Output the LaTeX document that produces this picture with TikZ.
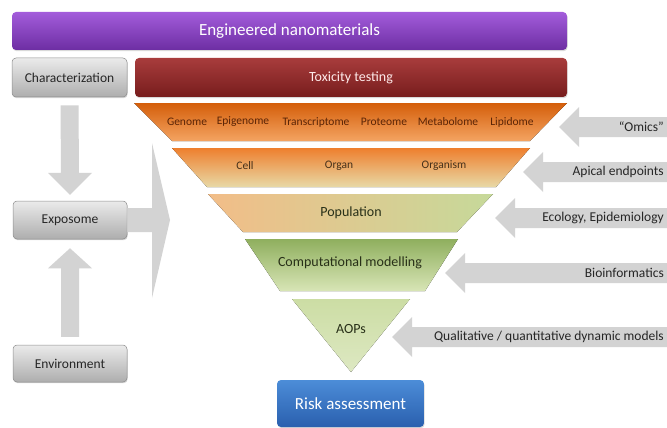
\documentclass[tikz,border=0pt]{standalone}
\usepackage{fontspec}
\setmainfont{Carlito}
\usetikzlibrary{shadows}
\definecolor{purT}{HTML}{A35CDB}
\definecolor{purB}{HTML}{6D2EA3}
\definecolor{redT}{HTML}{A83C3C}
\definecolor{redB}{HTML}{771D1D}
\definecolor{bluT}{HTML}{4C8DD8}
\definecolor{bluB}{HTML}{2A5FAE}
\definecolor{orT}{HTML}{D45E0A}
\definecolor{orB}{HTML}{F4A462}
\definecolor{celT}{HTML}{EE7F2E}
\definecolor{celB}{HTML}{E8D9A6}
\definecolor{popL}{HTML}{F2BD88}
\definecolor{popR}{HTML}{C6D99A}
\definecolor{comT}{HTML}{8FAF5E}
\definecolor{comB}{HTML}{D8E5B6}
\definecolor{aopT}{HTML}{CCDDA4}
\definecolor{aopB}{HTML}{DDE8C2}
\definecolor{arrG}{HTML}{D3D3D3}
\definecolor{omTxt}{HTML}{5A2406}
\definecolor{celTxt}{HTML}{45301A}
\definecolor{grTxt}{HTML}{283018}
\tikzset{
  bar/.style={rounded corners=4pt, text=white, inner sep=0pt,
    drop shadow={opacity=0.3, shadow xshift=0.6pt, shadow yshift=-1.2pt}},
  graybox/.style={draw=black!45, line width=0.5pt, rounded corners=4pt,
    top color=black!8, bottom color=black!32, inner sep=0pt,
    minimum width=114pt, minimum height=38pt, text=black!85,
    font=\fontsize{13.5}{15}\selectfont,
    drop shadow={opacity=0.35, shadow xshift=0.6pt, shadow yshift=-1.2pt}},
  garrow/.style={fill=arrG},
  omlabel/.style={font=\fontsize{11.5}{13}\selectfont, text=omTxt, inner sep=0pt},
  cellabel/.style={font=\fontsize{11.5}{13}\selectfont, text=celTxt, inner sep=0pt},
  funlabel/.style={font=\fontsize{14}{16}\selectfont, text=grTxt, inner sep=0pt},
  rlabel/.style={font=\fontsize{13.5}{15}\selectfont, text=black!85, anchor=east, inner sep=0pt}
}
\begin{document}
\begin{tikzpicture}[x=1pt,y=-1pt]
\useasboundingbox (0,0) rectangle (667,428);

% top bars
\node[bar, top color=purT, bottom color=purB, minimum width=555pt, minimum height=38pt,
  font=\fontsize{17}{19}\selectfont] (enm) at (289.5,31) {Engineered nanomaterials};
\node[graybox, minimum width=115pt, minimum height=39pt] (char) at (69.5,77.5) {Characterization};
\node[bar, top color=redT, bottom color=redB, minimum width=432pt, minimum height=39pt,
  text=red!8, font=\fontsize{14}{16}\selectfont] (tox) at (351,77.5) {Toxicity testing};

% funnel
\fill[top color=orT, bottom color=orB] (134,103) -- (567,103) -- (530,141) -- (172,141) -- cycle;
\fill[top color=celT, bottom color=celB] (172,148) -- (530,148) -- (496,187) -- (207,187) -- cycle;
\fill[left color=popL, right color=popR] (208,194) -- (493,194) -- (457,232) -- (243,232) -- cycle;
\fill[top color=comT, bottom color=comB] (245,239) -- (458,239) -- (425,291) -- (280,291) -- cycle;
\fill[top color=aopT, bottom color=aopB] (292,299) -- (410,299) -- (351,372) -- cycle;

\node[omlabel] (genome) at (187,122) {Genome};
\node[omlabel] (epi) at (243,122) {Epigenome};
\node[omlabel] (trans) at (316,122) {Transcriptome};
\node[omlabel] (prot) at (384,122) {Proteome};
\node[omlabel] (meta) at (448,122) {Metabolome};
\node[omlabel] (lipi) at (512,122) {Lipidome};

\node[cellabel] (cell) at (245,166) {Cell};
\node[cellabel] (organ) at (339,166) {Organ};
\node[cellabel] (organism) at (444,166) {Organism};

\node[funlabel] (pop) at (351,213) {Population};
\node[funlabel] (comp) at (350,263) {Computational modelling};
\node[funlabel] (aop) at (351,329) {AOPs};

% risk assessment
\node[bar, top color=bluT, bottom color=bluB, minimum width=147pt, minimum height=47pt,
  font=\fontsize{17}{19}\selectfont] (risk) at (350.5,403.5) {\raisebox{-2pt}{Risk assessment}};

% left column
\node[graybox] (expo) at (70,220) {Exposome};
\node[graybox, minimum height=37pt] (env) at (70,363.5) {Environment};

% down arrow characterization -> exposome
\coordinate (dtop) at ([yshift=-8pt]char.south);
\coordinate (dtip) at ([yshift=6pt]expo.north);
\fill[garrow] ([xshift=-9pt]dtop) -- ([xshift=9pt]dtop) -- ([xshift=9pt,yshift=22pt]dtip)
  -- ([xshift=22pt,yshift=22pt]dtip) -- (dtip) -- ([xshift=-22pt,yshift=22pt]dtip)
  -- ([xshift=-9pt,yshift=22pt]dtip) -- cycle;

% up arrow environment -> exposome
\coordinate (ubot) at ([yshift=8pt]env.north);
\coordinate (utip) at ([yshift=-9pt]expo.south);
\fill[garrow] ([xshift=-9pt]ubot) -- ([xshift=9pt]ubot) -- ([xshift=9pt,yshift=-20pt]utip)
  -- ([xshift=22pt,yshift=-20pt]utip) -- (utip) -- ([xshift=-22pt,yshift=-20pt]utip)
  -- ([xshift=-9pt,yshift=-20pt]utip) -- cycle;

% big chevron arrow exposome -> funnel
\coordinate (cbase) at (expo.east);
\coordinate (ctip) at (170,220);
\fill[garrow] (cbase |- 0,208) -- (152,208) -- (152,143) -- (ctip) -- (152,298)
  -- (152,232) -- (cbase |- 0,232) -- cycle;

% right-hand arrows
\foreach \tipx/\yy/\nm/\txt in {559/127/omics/{“Omics”},
    523/172/apical/{Apical endpoints},
    495/218/ecol/{Ecology, Epidemiology},
    445/273/bioinf/{Bioinformatics},
    392/337/qual/{Qualitative / quantitative dynamic models}}{
  \coordinate (\nm tip) at (\tipx,\yy);
  \coordinate (\nm end) at (667,\yy);
  \fill[garrow] (\nm tip) -- ([xshift=20pt,yshift=-20pt]\nm tip) -- ([xshift=20pt,yshift=-10pt]\nm tip)
    -- ([yshift=-10pt]\nm end) -- ([yshift=10pt]\nm end) -- ([xshift=20pt,yshift=10pt]\nm tip)
    -- ([xshift=20pt,yshift=20pt]\nm tip) -- cycle;
  \node[rlabel] (\nm) at (664,\yy) {\txt};
}
\end{tikzpicture}
\end{document}
